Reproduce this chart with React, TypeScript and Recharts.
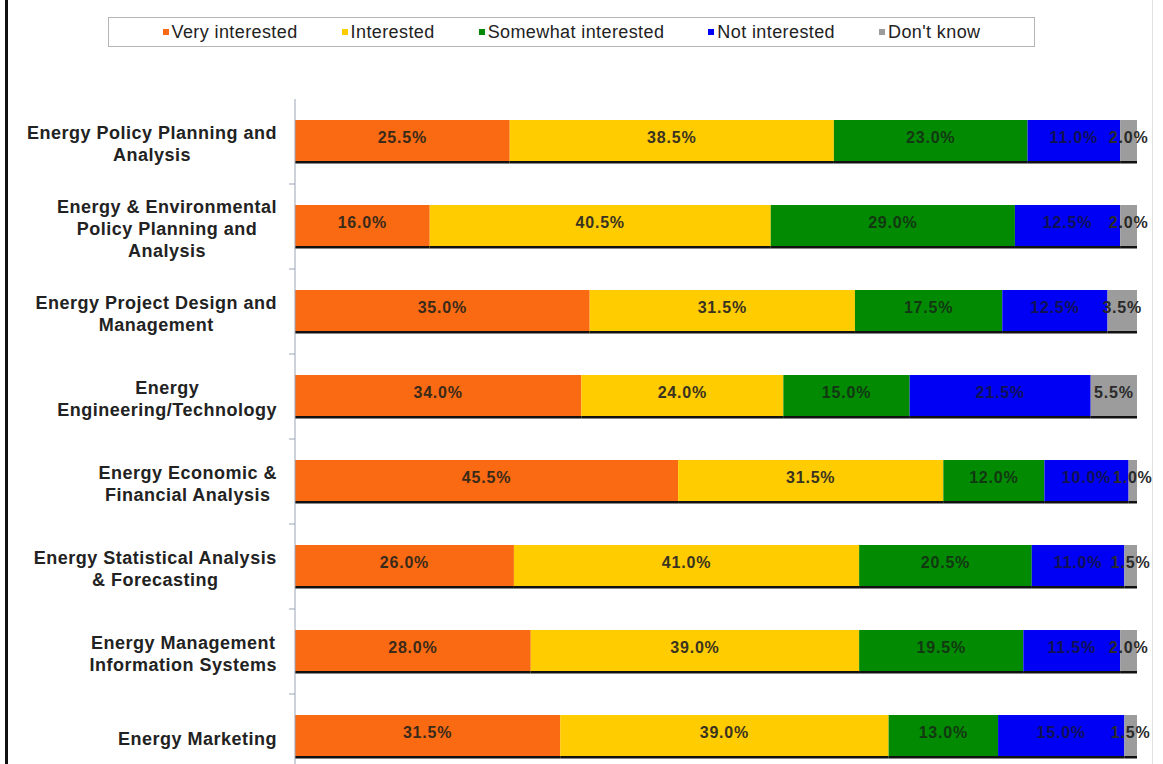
import React from 'react';
import { BarChart, Bar, XAxis, YAxis, LabelList } from 'recharts';

const categories = [
  'Energy Policy Planning and|Analysis',
  'Energy & Environmental|Policy Planning and|Analysis',
  'Energy Project Design and|Management',
  'Energy|Engineering/Technology',
  'Energy Economic &|Financial Analysis',
  'Energy Statistical Analysis|& Forecasting',
  'Energy Management|Information Systems',
  'Energy Marketing',
];
const veryInterested = [25.5, 16.0, 35.0, 34.0, 45.5, 26.0, 28.0, 31.5];
const interested = [38.5, 40.5, 31.5, 24.0, 31.5, 41.0, 39.0, 39.0];
const somewhatInterested = [23.0, 29.0, 17.5, 15.0, 12.0, 20.5, 19.5, 13.0];
const notInterested = [11.0, 12.5, 12.5, 21.5, 10.0, 11.0, 11.5, 15.0];
const dontKnow = [2.0, 2.0, 3.5, 5.5, 1.0, 1.5, 2.0, 1.5];

const seriesList = [
  { key: 'very', name: 'Very interested', values: veryInterested, color: '#FA6A12', text: '#3a2a1a' },
  { key: 'int', name: 'Interested', values: interested, color: '#FFCC00', text: '#3a3320' },
  { key: 'some', name: 'Somewhat interested', values: somewhatInterested, color: '#038A03', text: '#123812' },
  { key: 'not', name: 'Not interested', values: notInterested, color: '#0000F5', text: '#111155' },
  { key: 'dk', name: "Don't know", values: dontKnow, color: '#9C9C9C', text: '#2a2a2a' },
];

const data = categories.map((name, i) => {
  const row: Record<string, any> = { name };
  seriesList.forEach((s) => {
    row[s.key] = s.values[i];
  });
  return row;
});

const FONT = '"Liberation Sans", Arial, Helvetica, sans-serif';
const TICK_SIZE = 18;
const TICK_SPACING = 0.5;

// measure the widest line so the block can be right-aligned and centered inside
const measure = (txt: string) => {
  const c = document.createElement('canvas').getContext('2d');
  if (!c) return txt.length * 10;
  c.font = `bold ${TICK_SIZE}px ${FONT}`;
  return c.measureText(txt).width + TICK_SPACING * txt.length;
};

const CategoryTick = (props: any) => {
  const { x, y, payload } = props;
  const lines: string[] = String(payload.value).split('|');
  const maxW = Math.max(...lines.map(measure));
  const cx = x - 10 - maxW / 2;
  const lh = 22;
  const startY = y + 2 - ((lines.length - 1) * lh) / 2;
  const half = payload.offset || 42.5;
  return (
    <g>
      <line x1={x + 2} x2={x + 8} y1={y + half} y2={y + half} stroke="#9aa3b5" />
      <text
        textAnchor="middle"
        fontFamily={FONT}
        fontWeight="bold"
        fontSize={TICK_SIZE}
        letterSpacing={TICK_SPACING}
        fill="#222"
      >
        {lines.map((l, i) => (
          <tspan key={i} x={cx} y={startY + i * lh} dy="0.35em">
            {l}
          </tspan>
        ))}
      </text>
    </g>
  );
};

const BarShape = (props: any) => {
  const { x, y, width, height, fill } = props;
  if (!width || width <= 0) return null;
  return (
    <g>
      <rect x={x} y={y} width={width} height={height} fill={fill} />
      <rect x={x} y={y + height - 2} width={width} height={2.5} fill="#111" />
    </g>
  );
};

const makeLabel = (color: string) => (props: any) => {
  const { x, y, width, height, value } = props;
  return (
    <text
      x={x + width / 2}
      y={y + height / 2 - 3}
      textAnchor="middle"
      dominantBaseline="middle"
      fontFamily={FONT}
      fontWeight="bold"
      fontSize={16}
      letterSpacing={0.8}
      fill={color}
    >
      {`${Number(value).toFixed(1)}%`}
    </text>
  );
};

const LegendBox = () => (
  <div
    style={{
      position: 'absolute',
      left: 108,
      top: 17,
      width: 925,
      height: 28,
      border: '1px solid #b5b5b5',
      display: 'flex',
      alignItems: 'center',
      justifyContent: 'center',
      gap: 44,
      fontFamily: FONT,
      fontSize: 18,
      letterSpacing: 0.4,
      color: '#222',
      background: '#fff',
    }}
  >
    {seriesList.map((s) => (
      <div key={s.key} style={{ display: 'flex', alignItems: 'center' }}>
        <span style={{ width: 6, height: 6, background: s.color, marginRight: 3, display: 'inline-block' }} />
        <span>{s.name}</span>
      </div>
    ))}
  </div>
);

export default function App() {
  return (
    <div
      style={{
        position: 'absolute',
        left: 0,
        top: 0,
        width: 1163,
        height: 764,
        overflow: 'hidden',
        background: '#fff',
      }}
    >
      <div style={{ position: 'absolute', left: 5, top: 0, width: 2.5, height: 764, background: '#111' }} />
      <div style={{ position: 'absolute', left: 1152, top: 0, width: 1, height: 764, background: '#e2e2e2' }} />
      <LegendBox />
      <div style={{ position: 'absolute', left: 0, top: 0 }}>
        <BarChart
          width={1163}
          height={790}
          data={data}
          layout="vertical"
          barCategoryGap={0}
          margin={{ top: 99, right: 26, bottom: 11, left: 0 }}
        >
          <XAxis type="number" domain={[0, 100]} hide />
          <YAxis
            type="category"
            dataKey="name"
            width={295}
            axisLine={{ stroke: '#9aa3b5' }}
            tickLine={false}
            tick={<CategoryTick />}
            interval={0}
          />
          {seriesList.map((s) => (
            <Bar
              key={s.key}
              dataKey={s.key}
              name={s.name}
              stackId="a"
              fill={s.color}
              barSize={43}
              shape={<BarShape />}
              isAnimationActive={false}
            >
              <LabelList dataKey={s.key} content={makeLabel(s.text)} />
            </Bar>
          ))}
        </BarChart>
      </div>
    </div>
  );
}
